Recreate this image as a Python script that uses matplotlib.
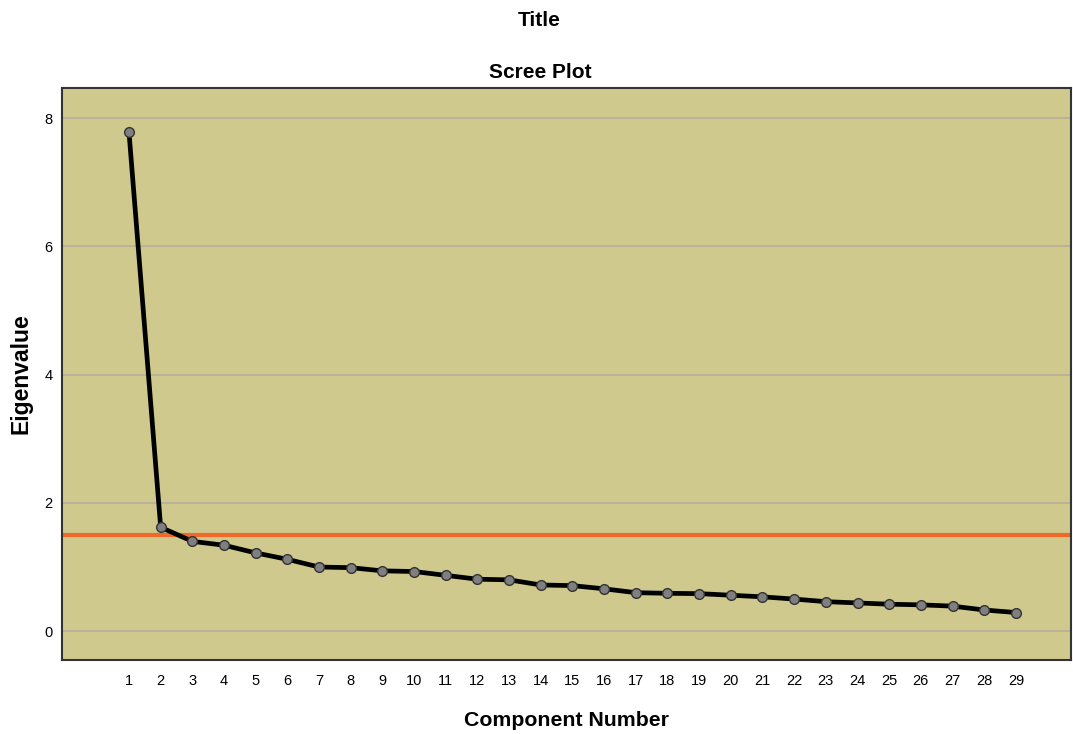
import matplotlib
matplotlib.use("Agg")
import matplotlib.pyplot as plt

components = list(range(1, 30))
eigenvalues = [7.78, 1.62, 1.40, 1.34, 1.22, 1.12, 1.00, 0.99, 0.94, 0.93,
               0.87, 0.81, 0.80, 0.72, 0.71, 0.66, 0.60, 0.59, 0.585, 0.56,
               0.535, 0.50, 0.46, 0.44, 0.42, 0.41, 0.39, 0.33, 0.29]
reference_line = 1.50
y_ticks = [0, 2, 4, 6, 8]

plt.rcParams['font.family'] = ['Liberation Sans', 'DejaVu Sans']

W, H = 1073, 734
fig = plt.figure(figsize=(W / 100, H / 100), dpi=100)
left, right, top, bottom = 62, 1071, 88, 660
ax = fig.add_axes([left / W, (H - bottom) / H, (right - left) / W, (bottom - top) / H])

ax.set_facecolor('#D0C98E')
ax.set_xlim(-1.115, 30.74)
ax.set_ylim(-0.45, 8.47)
for y in y_ticks:
    ax.axhline(y, color='#B5B09A', lw=1.2, zorder=1)
ax.axhline(reference_line, color='#F0682A', lw=3, zorder=2)
ax.plot(components, eigenvalues, color='black', lw=3.4, zorder=3,
        marker='o', markersize=7, markerfacecolor='#7F7F7F',
        markeredgecolor='#333333', markeredgewidth=1.0)

ax.set_xticks(components)
ax.set_xticklabels([str(c) for c in components], fontsize=10.5)
ax.set_yticks(y_ticks)
ax.set_yticklabels([str(y) for y in y_ticks], fontsize=10.5)
ax.tick_params(axis='x', length=0, pad=10)
ax.tick_params(axis='y', length=0, pad=7)
for s in ax.spines.values():
    s.set_color('#333333')
    s.set_linewidth(1.5)

ax.set_xlabel('Component Number', fontsize=15.3, fontweight='bold', labelpad=17)
ax.set_ylabel('Eigenvalue', fontsize=16.5, fontweight='bold', labelpad=8)
fig.text(539 / W, 1 - 20 / H, 'Title', ha='center', va='center', fontsize=15, fontweight='bold')
fig.text(540 / W, 1 - 72 / H, 'Scree Plot', ha='center', va='center', fontsize=15, fontweight='bold')

fig.savefig('out.png', dpi=100)
